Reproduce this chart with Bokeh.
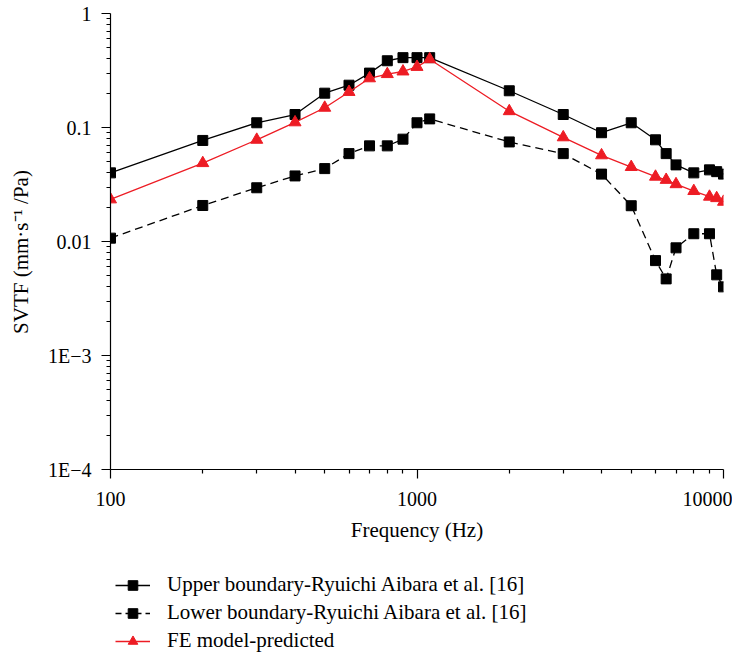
from bokeh.plotting import figure
from bokeh.layouts import column
from bokeh.models import (ColumnDataSource, Legend, LegendItem, FixedTicker,
                          CustomJSTickFormatter, Range1d)
from bokeh.embed import file_html
from bokeh.resources import INLINE

# ---- data ----
freq = [100, 200, 300, 400, 500, 600, 700, 800, 900, 1000, 1100,
        2000, 3000, 4000, 5000, 6000, 6500, 7000, 8000, 9000, 9500, 10000]
upper = [0.040, 0.077, 0.11, 0.13, 0.20, 0.235, 0.30, 0.385, 0.41, 0.41, 0.41,
         0.21, 0.13, 0.09, 0.11, 0.078, 0.059, 0.047, 0.040, 0.0425, 0.041, 0.039]
lower = [0.0107, 0.0207, 0.0296, 0.0376, 0.0436, 0.059, 0.069, 0.069, 0.079, 0.11, 0.119,
         0.0747, 0.059, 0.039, 0.0206, 0.0068, 0.0047, 0.0088, 0.0117, 0.0117, 0.0051, 0.0040]
fe_model = [0.0234, 0.0487, 0.078, 0.111, 0.149, 0.205, 0.27, 0.294, 0.31, 0.34, 0.397,
            0.139, 0.082, 0.057, 0.045, 0.037, 0.0347, 0.0318, 0.0277, 0.0247, 0.024, 0.0223]

x_ticks = [100, 1000, 10000]
x_tick_labels = ["100", "1000", "10000"]
y_ticks = [1e-4, 1e-3, 1e-2, 1e-1, 1]
y_tick_labels = ["1E\u22124", "1E\u22123", "0.01", "0.1", "1"]

series_names = ["Upper boundary-Ryuichi Aibara et al. [16]",
                "Lower boundary-Ryuichi Aibara et al. [16]",
                "FE model-predicted"]

FONT = "Liberation Serif"
RED = "#ed1c24"

src = ColumnDataSource(dict(f=freq, up=upper, lo=lower, fe=fe_model))

p = figure(width=732, height=556, x_axis_type="log", y_axis_type="log",
           x_range=(100, 10000), y_range=(1e-4, 1),
           output_backend="svg", toolbar_location=None,
           min_border_left=110, min_border_right=9,
           min_border_top=13, min_border_bottom=87)
p.outline_line_color = None
p.grid.visible = False
p.background_fill_color = "white"
p.border_fill_color = "white"

def minor(majors):
    out = []
    for m in majors[:-1]:
        out += [m * k for k in range(2, 10)]
    return out

p.xaxis.ticker = FixedTicker(ticks=x_ticks, minor_ticks=minor(x_ticks))
p.yaxis.ticker = FixedTicker(ticks=y_ticks, minor_ticks=minor(y_ticks))
p.xaxis.formatter = CustomJSTickFormatter(args=dict(labels=x_tick_labels),
    code="return labels[Math.round(Math.log10(tick)) - 2];")
p.yaxis.formatter = CustomJSTickFormatter(args=dict(labels=y_tick_labels),
    code="return labels[Math.round(Math.log10(tick)) + 4];")

for ax in (p.xaxis, p.yaxis):
    ax.axis_line_color = "black"
    ax.axis_line_width = 1.2
    ax.major_tick_line_color = "black"
    ax.minor_tick_line_color = "black"
    ax.major_tick_line_width = 1.2
    ax.minor_tick_line_width = 1.2
    ax.major_tick_in = 0
    ax.minor_tick_in = 0
    ax.major_tick_out = 9
    ax.minor_tick_out = 4
    ax.major_label_text_font = FONT
    ax.major_label_text_font_size = "20px"
    ax.major_label_text_color = "black"
    ax.axis_label_text_font = FONT
    ax.axis_label_text_font_style = "normal"
    ax.axis_label_text_color = "black"
    ax.axis_label_text_font_size = "21px"

p.xaxis.axis_label = "Frequency (Hz)"
p.yaxis.axis_label = "SVTF (mm\u00b7s\u207b\u00b9 /Pa)\u00a0\u00a0\u00a0\u00a0"
p.xaxis.major_label_standoff = 13
p.yaxis.major_label_standoff = 10
p.xaxis.axis_label_standoff = 9
p.yaxis.axis_label_standoff = 12

SQ = 10
TRI = 12

p.line("f", "up", source=src, line_color="black", line_width=1.3)
p.scatter("f", "up", source=src, marker="square", size=SQ,
          fill_color="black", line_color="black")
p.line("f", "lo", source=src, line_color="black", line_width=1.3, line_dash="8 5")
p.scatter("f", "lo", source=src, marker="square", size=SQ,
          fill_color="black", line_color="black")
p.line("f", "fe", source=src, line_color=RED, line_width=1.3)
p.scatter("f", "fe", source=src, marker="triangle", size=TRI,
          fill_color=RED, line_color=RED)

# ---- legend strip below the chart (proxy glyphs lie outside its visible range) ----
p2 = figure(width=732, height=98, x_range=Range1d(0, 1), y_range=Range1d(0, 1),
            x_axis_location=None, y_axis_location=None,
            output_backend="svg", toolbar_location=None,
            min_border=0)
p2.outline_line_color = None
p2.grid.visible = False
proxy = ColumnDataSource(dict(x=[-10.0], y=[-10.0]))
g1 = [p2.line("x", "y", source=proxy, line_color="black", line_width=1.3),
      p2.scatter("x", "y", source=proxy, marker="square", size=8,
                 fill_color="black", line_color="black")]
g2 = [p2.line("x", "y", source=proxy, line_color="black", line_width=1.3, line_dash="6 4"),
      p2.scatter("x", "y", source=proxy, marker="square", size=8,
                 fill_color="black", line_color="black")]
g3 = [p2.line("x", "y", source=proxy, line_color=RED, line_width=1.3),
      p2.scatter("x", "y", source=proxy, marker="triangle", size=10,
                 fill_color=RED, line_color=RED)]

legend = Legend(items=[LegendItem(label=series_names[0], renderers=g1),
                       LegendItem(label=series_names[1], renderers=g2),
                       LegendItem(label=series_names[2], renderers=g3)],
                location=(5, 1), orientation="vertical")
legend.border_line_color = None
legend.background_fill_alpha = 0
legend.padding = 0
legend.margin = 0
legend.spacing = 3
legend.label_height = 24
legend.glyph_height = 24
legend.glyph_width = 35
legend.label_standoff = 17
legend.label_text_font = FONT
legend.label_text_font_size = "21px"
legend.label_text_color = "black"
p2.add_layout(legend, "center")

layout = column(p, p2, spacing=0)
open("out.html", "w").write(file_html(layout, INLINE))
